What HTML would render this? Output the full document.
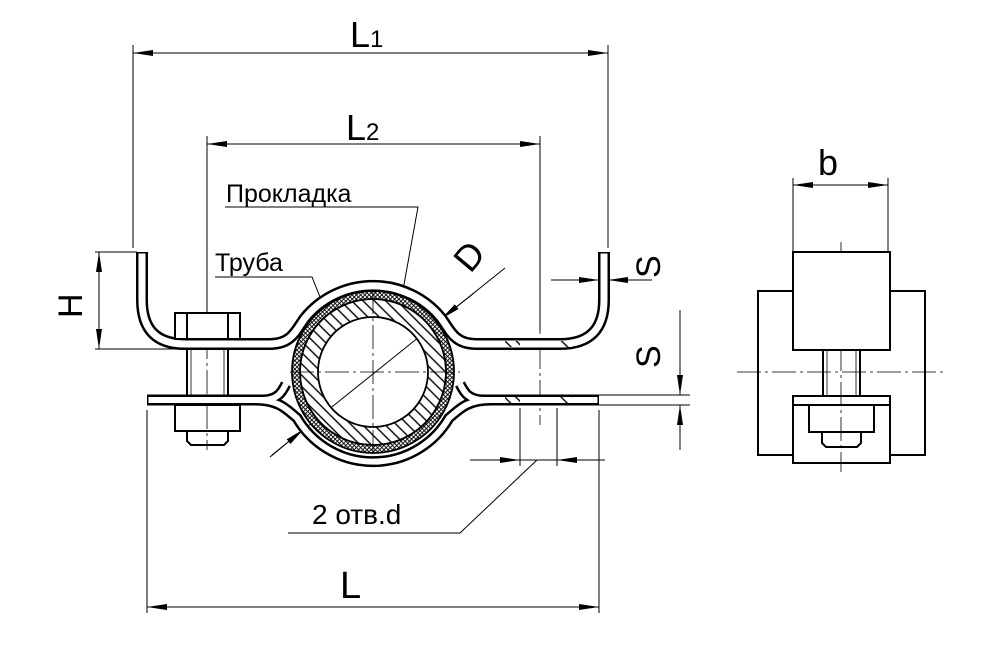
<!DOCTYPE html>
<html><head><meta charset="utf-8"><style>html,body{margin:0;padding:0;background:#fff}svg{display:block}</style></head>
<body>
<svg width="992" height="647" viewBox="0 0 992 647" xmlns="http://www.w3.org/2000/svg" font-family="Liberation Sans, sans-serif">
<defs>
<pattern id="hat" width="8" height="8" patternUnits="userSpaceOnUse" patternTransform="rotate(-45)">
<rect width="8" height="8" fill="#fff"/><line x1="4" y1="0" x2="4" y2="8" stroke="#000" stroke-width="1.4"/></pattern>
<pattern id="cross" width="3" height="3" patternUnits="userSpaceOnUse" patternTransform="rotate(45)">
<rect width="3" height="3" fill="#fff"/><line x1="1.5" y1="0" x2="1.5" y2="3" stroke="#000" stroke-width="0.9"/><line x1="0" y1="1.5" x2="3" y2="1.5" stroke="#000" stroke-width="0.9"/></pattern>
<marker id="ar" viewBox="0 0 20 8" refX="20" refY="4" markerWidth="20" markerHeight="8" markerUnits="userSpaceOnUse" orient="auto-start-reverse"><path d="M0,1 L20,4 L0,7 z" fill="#000"/></marker>
</defs>
<g fill="none" stroke="#000">
<g stroke-width="1">
<line x1="133" y1="45" x2="133" y2="248"/><line x1="608" y1="45" x2="608" y2="248"/>
<line x1="133" y1="53" x2="608" y2="53" marker-start="url(#ar)" marker-end="url(#ar)"/>
<line x1="207" y1="136" x2="207" y2="312"/><line x1="540" y1="136" x2="540" y2="330"/>
<line x1="207" y1="144" x2="540" y2="144" marker-start="url(#ar)" marker-end="url(#ar)"/>
<line x1="95" y1="252" x2="137" y2="252"/><line x1="95" y1="349" x2="175" y2="349"/>
<line x1="99" y1="252" x2="99" y2="349" marker-start="url(#ar)" marker-end="url(#ar)"/>
<line x1="551" y1="280" x2="599" y2="280" marker-end="url(#ar)"/>
<line x1="608" y1="280" x2="652" y2="280"/>
<line x1="633" y1="280" x2="608" y2="280" marker-end="url(#ar)"/>
<line x1="599" y1="395" x2="690" y2="395"/><line x1="599" y1="405" x2="690" y2="405"/>
<line x1="680" y1="310" x2="680" y2="395" marker-end="url(#ar)"/>
<line x1="680" y1="450" x2="680" y2="405" marker-end="url(#ar)"/>
<line x1="147" y1="410" x2="147" y2="613"/><line x1="599" y1="410" x2="599" y2="613"/>
<line x1="147" y1="607" x2="599" y2="607" marker-start="url(#ar)" marker-end="url(#ar)"/>
<line x1="520" y1="408" x2="520" y2="466"/><line x1="557" y1="408" x2="557" y2="466"/>
<line x1="470" y1="460" x2="520" y2="460" marker-end="url(#ar)"/>
<line x1="605" y1="460" x2="557" y2="460" marker-end="url(#ar)"/>
<line x1="520" y1="460" x2="557" y2="460"/>
<polyline points="537,460 460,533 288,533"/>
<polyline points="225,207 418,207 403,290"/>
<polyline points="215,277 312,277 330,322"/>
<line x1="505" y1="268" x2="272" y2="455"/>
<line x1="474" y1="293" x2="441" y2="319" marker-end="url(#ar)"/>
<line x1="270" y1="457" x2="304" y2="429" marker-end="url(#ar)"/>
<line x1="793" y1="178" x2="793" y2="251"/><line x1="888" y1="178" x2="888" y2="251"/>
<line x1="793" y1="185" x2="888" y2="185" marker-start="url(#ar)" marker-end="url(#ar)"/>
</g>
<path d="M373,299 a73,73 0 1,0 0.01,0 z M373,317 a55,55 0 1,1 -0.01,0 z" fill="url(#hat)" fill-rule="evenodd" stroke-width="1.8"/>
<path d="M373,291 a81,81 0 1,0 0.01,0 z M373,299 a73,73 0 1,1 -0.01,0 z" fill="url(#cross)" fill-rule="evenodd" stroke-width="1.8"/>
<g stroke-width="0.8" stroke-dasharray="24,4,3,4">
<line x1="290" y1="372" x2="460" y2="372"/><line x1="373" y1="290" x2="373" y2="460"/>
<line x1="207" y1="300" x2="207" y2="450"/><line x1="540" y1="310" x2="540" y2="425"/>
<line x1="737" y1="372" x2="945" y2="372"/><line x1="841" y1="242" x2="841" y2="472"/>
</g>
<path d="M142,252 V300 Q142,344 185,344 H270 C292,344 296,330 305,318 A88,88 0 0,1 441,318 C450,330 454,344 476,344 H560 Q604,344 604,300 V252" stroke-width="12"/>
<path d="M142,253.5 V300 Q142,344 185,344 H270 C292,344 296,330 305,318 A88,88 0 0,1 441,318 C450,330 454,344 476,344 H560 Q604,344 604,300 V253.5" stroke="#fff" stroke-width="7"/>
<g stroke-width="11">
<path d="M147,400 H262 C278,400 282,392 286,384"/>
<path d="M599,400 H484 C468,400 464,392 460,384"/>
<path d="M255,400 C280,400 287,410 297,418 A88,88 0 0,0 449,418 C459,410 466,400 491,400"/>
</g>
<g stroke="#fff" stroke-width="6">
<path d="M148.5,400 H262 C278,400 282,392 286,384"/>
<path d="M597.5,400 H484 C468,400 464,392 460,384"/>
<path d="M255,400 C280,400 287,410 297,418 A88,88 0 0,0 449,418 C459,410 466,400 491,400"/>
</g>
<path d="M373,291 a81,81 0 0,0 -79,63 M373,291 a81,81 0 0,1 79,63" stroke-width="1.8"/>
<g fill="url(#hat)" stroke="none">
<rect x="505" y="341" width="15" height="6"/><rect x="557" y="341" width="15" height="6"/>
<rect x="505" y="397" width="15" height="6"/><rect x="557" y="397" width="15" height="6"/>
</g>
<g stroke-width="2">
<rect x="175" y="313" width="65" height="26" fill="#fff"/>
<line x1="187" y1="313" x2="187" y2="339"/><line x1="228" y1="313" x2="228" y2="339"/>
<line x1="187" y1="349" x2="187" y2="395"/><line x1="228" y1="349" x2="228" y2="395"/>
<line x1="191" y1="349" x2="191" y2="395" stroke-width="0.8"/><line x1="224" y1="349" x2="224" y2="395" stroke-width="0.8"/>
<rect x="175" y="405" width="65" height="26"/>
<path d="M187,431 V441 L191,445 H224 L228,441 V431"/>
</g>
<g stroke-width="2">
<path d="M793,291 H758 V455 H793 M890,291 H925 V455 H890"/>
<rect x="793" y="252" width="97" height="98" fill="#fff"/>
<line x1="823" y1="350" x2="823" y2="396"/><line x1="860" y1="350" x2="860" y2="396"/>
<line x1="827" y1="350" x2="827" y2="396" stroke-width="0.8"/><line x1="856" y1="350" x2="856" y2="396" stroke-width="0.8"/>
<path d="M793,396 H890 V463 H793 Z"/>
<line x1="793" y1="405" x2="890" y2="405"/>
<path d="M809,405 V432 H874 V405"/>
<path d="M822,432 V443 L826,447 H857 L861,443 V432"/>
</g>
</g>
<g fill="#000">
<text x="350" y="47" font-size="36">L<tspan font-size="24">1</tspan></text>
<text x="346" y="140" font-size="36">L<tspan font-size="24">2</tspan></text>
<text x="226" y="202" font-size="25">Прокладка</text>
<text x="215" y="271" font-size="25">Труба</text>
<text x="312" y="524" font-size="28">2 отв.d</text>
<text x="340" y="598" font-size="38">L</text>
<text x="818" y="175" font-size="36">b</text>
<text font-size="34" transform="translate(82,318) rotate(-90)">H</text>
<text font-size="34" transform="translate(660,278) rotate(-90)">S</text>
<text font-size="34" transform="translate(660,368) rotate(-90)">S</text>
<text font-size="36" transform="translate(465,262) rotate(-50)" x="-6" y="12">D</text>
</g>
</svg>
</body></html>
